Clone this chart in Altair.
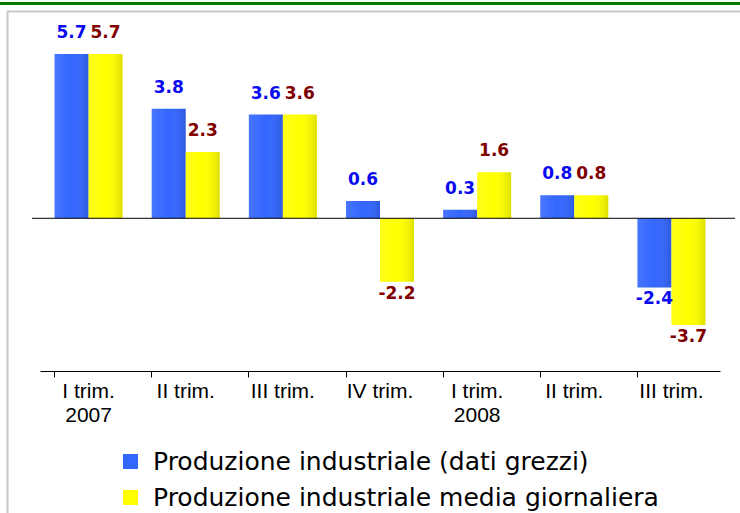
import altair as alt
import pandas as pd

# Quarterly change in industrial production (%)
trimestri = ["I trim. 2007", "II trim. 2007", "III trim. 2007", "IV trim. 2007",
             "I trim. 2008", "II trim. 2008", "III trim. 2008"]
serie = ["Produzione industriale (dati grezzi)",
         "Produzione industriale media giornaliera"]
dati_grezzi = [5.7, 3.8, 3.6, 0.6, 0.3, 0.8, -2.4]
media_giornaliera = [5.7, 2.3, 3.6, -2.2, 1.6, 0.8, -3.7]

colori_barre = ["#3366FF", "#FFFF00"]
colore_testo_1 = "#0A0AF0"
colore_testo_2 = "#800000"

rows = []
for t, a, b in zip(trimestri, dati_grezzi, media_giornaliera):
    rows.append({"trimestre": t, "serie": serie[0], "valore": a})
    rows.append({"trimestre": t, "serie": serie[1], "valore": b})
df = pd.DataFrame(rows)

# Axis label: year shown only under the first quarter
label_expr = (
    "indexof(datum.label, 'I trim.') == 0 ? "
    "['I trim.', substring(datum.label, 8)] : "
    "substring(datum.label, 0, length(datum.label) - 5)"
)

x_enc = alt.X(
    "trimestre:N", sort=trimestri,
    scale=alt.Scale(paddingInner=0.3, paddingOuter=0.15),
    axis=alt.Axis(
        title=None, labelAngle=0, labelExpr=label_expr,
        labelFont="Liberation Sans, Arial, sans-serif", labelFontSize=21,
        labelColor="black", labelLineHeight=24, labelPadding=3,
        labelBaseline="top", domainColor="black", tickColor="black",
        tickSize=6, bandPosition=0, labelOverlap=False,
    ),
)
xo_enc = alt.XOffset("serie:N", sort=serie, scale=alt.Scale(paddingInner=0, paddingOuter=0))
y_enc = alt.Y("valore:Q", scale=alt.Scale(domain=[-5.3, 6.5], nice=False, zero=False), axis=None)

base = alt.Chart(df)

bars = base.mark_bar().encode(
    x=x_enc, xOffset=xo_enc, y=y_enc,
    color=alt.Color(
        "serie:N", sort=serie,
        scale=alt.Scale(domain=serie, range=colori_barre),
        legend=alt.Legend(
            title=None, orient="none", legendX=78, legendY=418, padding=0,
            symbolType="square", symbolSize=225, symbolStrokeWidth=0,
            symbolOpacity=1, labelFont="DejaVu Sans", labelFontSize=25,
            labelColor="black", labelLimit=0, rowPadding=10, labelOffset=10,
        ),
    ),
)

# Soft cylinder shading laid over every bar
shade = base.mark_bar(
    fill={
        "gradient": "linear", "x1": 0, "y1": 0, "x2": 1, "y2": 0,
        "stops": [
            {"offset": 0, "color": "rgba(255,255,255,0.10)"},
            {"offset": 0.5, "color": "rgba(255,255,255,0)"},
            {"offset": 1, "color": "rgba(0,0,0,0.13)"},
        ],
    }
).encode(x=x_enc, xOffset=xo_enc, y=y_enc)

text_style = dict(font="DejaVu Sans", fontWeight="bold", fontSize=17)

def value_labels(name, colour, positive):
    flt = f"datum.serie == '{name}' && datum.valore {'>=' if positive else '<'} 0"
    mark = base.transform_filter(flt).transform_calculate(
        etichetta="'' + datum.valore"
    ).mark_text(
        baseline="bottom" if positive else "top",
        dy=-12 if positive else 4,
        color=colour, **text_style,
    )
    return mark.encode(
        x=x_enc, xOffset=xo_enc, y=y_enc,
        text=alt.Text("etichetta:N"),
    )

labels = [
    value_labels(serie[0], colore_testo_1, True),
    value_labels(serie[0], colore_testo_1, False),
    value_labels(serie[1], colore_testo_2, True),
    value_labels(serie[1], colore_testo_2, False),
]

one = alt.Data(values=[{"v": 0}])

zero_line = alt.Chart(one).mark_rule(color="black", strokeWidth=1).encode(
    x=alt.value(-8), x2=alt.value(695), y=alt.Y("v:Q")
)

# Page decorations: green rule at the top and the grey frame
green_rule = alt.Chart(one).mark_rule(color="#007A00", strokeWidth=3).encode(
    x=alt.value(-40), x2=alt.value(700), y=alt.value(-27.5)
)
frame_top = alt.Chart(one).mark_rule(color="#C8C8C8", strokeWidth=2).encode(
    x=alt.value(-33), x2=alt.value(700), y=alt.value(-19.5)
)
frame_left = alt.Chart(one).mark_rule(color="#C8C8C8", strokeWidth=2).encode(
    x=alt.value(-32.5), y=alt.value(-20), y2=alt.value(490)
)

chart = alt.layer(
    bars, shade, *labels, zero_line, green_rule, frame_top, frame_left
).properties(
    width=680, height=340,
    padding={"left": 40, "top": 31, "right": 20, "bottom": 142},
    autosize=alt.AutoSizeParams(type="none"),
    background="white",
).configure_view(stroke=None)

chart.save("out.html", embed_options={"renderer": "svg", "actions": False})
